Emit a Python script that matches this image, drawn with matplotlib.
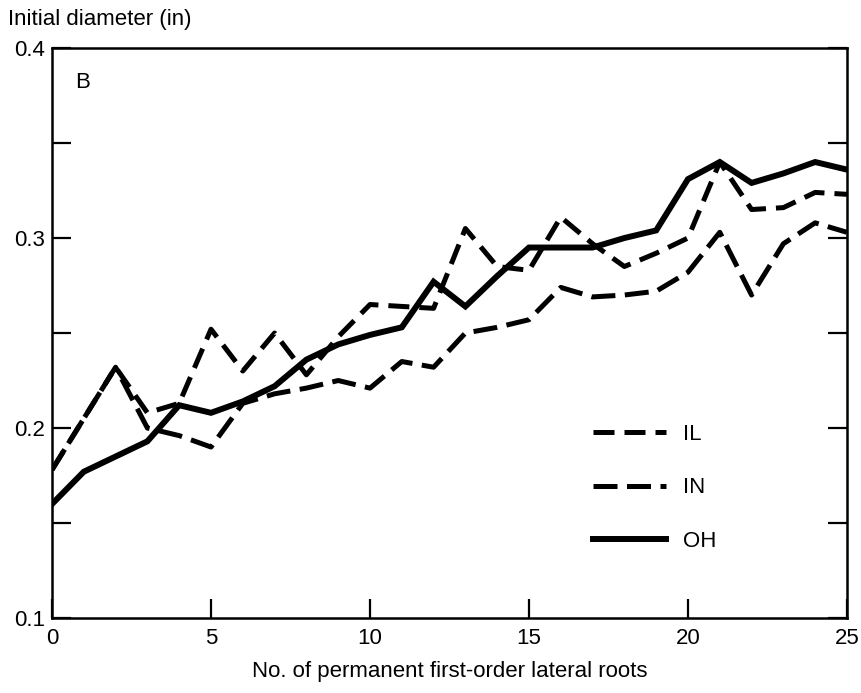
import matplotlib
matplotlib.use("Agg")
from matplotlib import pyplot as plt

plt.rcParams['font.family'] = ['Liberation Sans', 'DejaVu Sans']

# No. of permanent first-order lateral roots
roots = list(range(26))

# initial diameter (in)
il = [0.178, 0.205, 0.232, 0.208, 0.213, 0.252, 0.230, 0.250, 0.228, 0.248,
      0.265, 0.264, 0.263, 0.305, 0.285, 0.283, 0.311, 0.297, 0.285, 0.292,
      0.300, 0.340, 0.315, 0.316, 0.324, 0.323]
inn = [0.178, 0.205, 0.232, 0.200, 0.196, 0.190, 0.213, 0.218, 0.221, 0.225,
       0.221, 0.235, 0.232, 0.250, 0.253, 0.257, 0.274, 0.269, 0.270, 0.272,
       0.282, 0.303, 0.270, 0.297, 0.308, 0.303]
oh = [0.160, 0.177, 0.185, 0.193, 0.212, 0.208, 0.214, 0.222, 0.236, 0.244,
      0.249, 0.253, 0.277, 0.264, 0.280, 0.295, 0.295, 0.295, 0.300, 0.304,
      0.331, 0.340, 0.329, 0.334, 0.340, 0.336]

xticks = [0, 5, 10, 15, 20, 25]
yticks = [0.1, 0.15, 0.2, 0.25, 0.3, 0.35, 0.4]
ylabels = ['0.1', '', '0.2', '', '0.3', '', '0.4']

fig = plt.figure(figsize=(8.61, 6.93), dpi=100)
ax = fig.add_axes([0.0604, 0.1082, 0.9233, 0.8225])

ax.plot(roots, il, color='black', lw=3.6, dashes=(4.2, 2.0), label='IL')
ax.plot(roots, inn, color='black', lw=3.6, dashes=(4.8, 1.9), label='IN')
ax.plot(roots, oh, color='black', lw=4.3, solid_joinstyle='miter', label='OH')

ax.set_xlim(0, 25)
ax.set_ylim(0.1, 0.4)
ax.set_xticks(xticks)
ax.set_yticks(yticks)
ax.set_yticklabels(ylabels)
ax.tick_params(axis='both', direction='in', length=14, width=1.6,
               labelsize=16, right=True, top=False, pad=5)
ax.tick_params(axis='x', pad=7)
for s in ax.spines.values():
    s.set_linewidth(1.8)

ax.text(0.029, 0.94, 'B', transform=ax.transAxes, fontsize=16, va='center')
fig.text(0.009, 1 - 19 / 693, 'Initial diameter (in)', fontsize=16, va='center')
ax.set_xlabel('No. of permanent first-order lateral roots', fontsize=16, labelpad=9)

ax.legend(loc='upper left', bbox_to_anchor=(0.655, 0.375), frameon=False,
          fontsize=16, handlelength=3.3, handletextpad=0.75, labelspacing=1.45)

fig.savefig('out.png', dpi=100)
